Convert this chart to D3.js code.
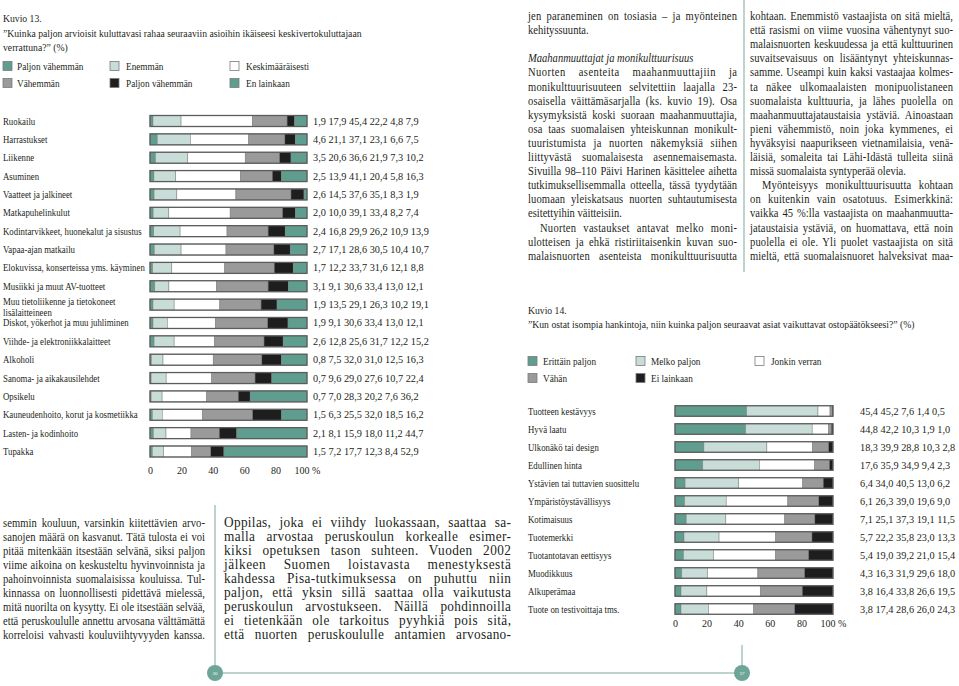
<!DOCTYPE html>
<html><head><meta charset="utf-8">
<script src="https://cdn.jsdelivr.net/npm/d3@7"></script>
<style>
body{margin:0;background:#fff}
svg{display:block}
text{font-family:"Liberation Serif","Times New Roman",serif;fill:#231f20}
</style></head>
<body><svg id="c" width="959" height="686"></svg>
<script>
// ---------- Kuvio 13 data ----------
const cat13 = ["Ruokailu","Harrastukset","Liikenne","Asuminen","Vaatteet ja jalkineet","Matkapuhelinkulut",
  "Kodintarvikkeet, huonekalut ja sisustus","Vapaa-ajan matkailu","Elokuvissa, konserteissa yms. käyminen",
  "Musiikki ja muut AV-tuotteet","Muu tietoliikenne ja tietokoneet\nlisälaitteineen","Diskot, yökerhot ja muu juhliminen",
  "Viihde- ja elektroniikkalaitteet","Alkoholi","Sanoma- ja aikakausilehdet","Opsikelu",
  "Kauneudenhoito, korut ja kosmetiikka","Lasten- ja kodinhoito","Tupakka"];
const paljonEnemman13 = [1.9,4.6,3.5,2.5,2.6,2.0,2.4,2.7,1.7,3.1,1.9,1.9,2.6,0.8,0.7,0.7,1.5,2.1,1.5];
const enemman13       = [17.9,21.1,20.6,13.9,14.5,10.0,16.8,17.1,12.2,9.1,13.5,9.1,12.8,7.5,9.6,7.0,6.3,8.1,7.2];
const keskim13        = [45.4,37.1,36.6,41.1,37.6,39.1,29.9,28.6,33.7,30.6,29.1,30.6,25.6,32.0,29.0,28.3,25.5,15.9,17.7];
const vahemman13      = [22.2,23.1,21.9,20.4,35.1,33.4,26.2,30.5,31.6,33.4,26.3,33.4,31.7,31.0,27.6,20.2,32.0,18.0,12.3];
const paljonVah13     = [4.8,6.6,7.3,5.8,8.3,8.2,10.9,10.4,12.1,13.0,10.2,13.0,12.2,12.5,10.7,7.6,18.5,11.2,8.4];
const enLainkaan13    = [7.9,7.5,10.2,16.3,1.9,7.4,13.9,10.7,8.8,12.1,19.1,12.1,15.2,16.3,22.4,36.2,16.2,44.7,52.9];
const legend13 = ["Paljon vähemmän","Enemmän","Keskimääräisesti","Vähemmän","Paljon vähemmän","En lainkaan"];
const ticks = [0,20,40,60,80,100];

// ---------- Kuvio 14 data ----------
const cat14 = ["Tuotteen kestävyys","Hyvä laatu","Ulkonäkö tai design","Edullinen hinta",
  "Ystävien tai tuttavien suosittelu","Ympäristöystävällisyys","Kotimaisuus","Tuotemerkki",
  "Tuotantotavan eettisyys","Muodikkuus","Alkuperämaa","Tuote on testivoittaja tms."];
const erittain14 = [45.4,44.8,18.3,17.6,6.4,6.1,7.1,5.7,5.4,4.3,3.8,3.8];
const melko14    = [45.2,42.2,39.9,35.9,34.0,26.3,25.1,22.2,19.0,16.3,16.4,17.4];
const jonkin14   = [7.6,10.3,28.8,34.9,40.5,39.0,37.3,35.8,39.2,31.9,33.8,28.6];
const vahan14    = [1.4,1.9,10.3,9.4,13.0,19.6,19.1,23.0,21.0,29.6,26.6,26.0];
const eiLaink14  = [0.5,1.0,2.8,2.3,6.2,9.0,11.5,13.3,15.4,18.0,19.5,24.3];
const legend14 = ["Erittäin paljon","Melko paljon","Jonkin verran","Vähän","Ei lainkaan"];

// ---------- body text (1 = justified, 0 = ragged, 2 = italic heading, 3 = indented) ----------
const textLeft = [
 ["semmin kouluun, varsinkin kiitettävien arvo-",1],["sanojen määrä on kasvanut. Tätä tulosta ei voi",1],
 ["pitää mitenkään itsestään selvänä, siksi paljon",1],["viime aikoina on keskusteltu hyvinvoinnista ja",1],
 ["pahoinvoinnista suomalaisissa kouluissa. Tul-",1],["kinnassa on luonnollisesti pidettävä mielessä,",1],
 ["mitä nuorilta on kysytty. Ei ole itsestään selvää,",1],["että peruskoululle annettu arvosana välttämättä",1],
 ["korreloisi vahvasti kouluviihtyvyyden kanssa.",1]];
const textMid = [
 ["Oppilas, joka ei viihdy luokassaan, saattaa sa-",1],["malla arvostaa peruskoulun korkealle esimer-",1],
 ["kiksi opetuksen tason suhteen. Vuoden 2002",1],["jälkeen Suomen loistavasta menestyksestä",1],
 ["kahdessa Pisa-tutkimuksessa on puhuttu niin",1],["paljon, että yksin sillä saattaa olla vaikutusta",1],
 ["peruskoulun arvostukseen. Näillä pohdinnoilla",1],["ei tietenkään ole tarkoitus pyyhkiä pois sitä,",1],
 ["että nuorten peruskoululle antamien arvosano-",1]];
const textR1 = [
 ["jen paraneminen on tosiasia – ja myönteinen",1],["kehityssuunta.",0],["",0],
 ["Maahanmuuttajat ja monikulttuurisuus",2],["Nuorten asenteita maahanmuuttajiin ja",1],
 ["monikulttuurisuuteen selvitettiin laajalla 23-",1],["osaisella väittämäsarjalla (ks. kuvio 19). Osa",1],
 ["kysymyksistä koski suoraan maahanmuuttajia,",1],["osa taas suomalaisen yhteiskunnan monikult-",1],
 ["tuuristumista ja nuorten näkemyksiä siihen",1],["liittyvästä suomalaisesta asennemaisemasta.",1],
 ["Sivuilla 98–110 Päivi Harinen käsittelee aihetta",1],["tutkimuksellisemmalla otteella, tässä tyydytään",1],
 ["luomaan yleiskatsaus nuorten suhtautumisesta",1],["esitettyihin väitteisiin.",0],
 ["Nuorten vastaukset antavat melko moni-",3],["ulotteisen ja ehkä ristiriitaisenkin kuvan suo-",1],
 ["malaisnuorten asenteista monikulttuurisuutta",1]];
const textR2 = [
 ["kohtaan. Enemmistö vastaajista on sitä mieltä,",1],["että rasismi on viime vuosina vähentynyt suo-",1],
 ["malaisnuorten keskuudessa ja että kulttuurinen",1],["suvaitsevaisuus on lisääntynyt yhteiskunnas-",1],
 ["samme. Useampi kuin kaksi vastaajaa kolmes-",1],["ta näkee ulkomaalaisten monipuolistaneen",1],
 ["suomalaista kulttuuria, ja lähes puolella on",1],["maahanmuuttajataustaisia ystäviä. Ainoastaan",1],
 ["pieni vähemmistö, noin joka kymmenes, ei",1],["hyväksyisi naapurikseen vietnamilaisia, venä-",1],
 ["läisiä, somaleita tai Lähi-Idästä tulleita siinä",1],["missä suomalaista syntyperää olevia.",0],
 ["Myönteisyys monikulttuurisuutta kohtaan",3],["on kuitenkin vain osatotuus. Esimerkkinä:",1],
 ["vaikka 45 %:lla vastaajista on maahanmuutta-",1],["jataustaisia ystäviä, on huomattava, että noin",1],
 ["puolella ei ole. Yli puolet vastaajista on sitä",1],["mieltä, että suomalaisnuoret halveksivat maa-",1]];

// ---------- drawing ----------
const TEAL="#5f9e8e", LIGHT="#c8ddd7", WHITE="#ffffff", GRAY="#9a9a9a", BLACK="#1e1e1e";
const svg = d3.select("#c");
const K = 0.88;
const fmt = d3.formatLocale({decimal:",",thousands:" ",grouping:[3],currency:["","€"]}).format(".1f");

// horizontally condensed text (emulates the narrow Garamond face)
function sq(g,s,x,y,size,k){
  const gg = g.append("g").attr("transform",`translate(${x},${y}) scale(${k},1)`);
  return gg.append("text").attr("x",0).attr("y",0).style("font-size",size+"px").text(s);
}

function paragraph(lines,x,y0,lh,w,size,k0){
  const g = svg.append("g");
  lines.forEach((ln,i)=>{
    const [s,f] = ln; if(!s) return;
    const ind = f===3?12:0;
    const t = sq(g,s,x+ind,y0+i*lh,size,k0);
    if(f===2) t.style("font-style","italic");
    if(f===1||f===3){
      const target = w-ind;
      const L = t.node().getComputedTextLength();
      if(L*k0 >= target){
        d3.select(t.node().parentNode).attr("transform",`translate(${x+ind},${y0+i*lh}) scale(${target/L},1)`);
      } else {
        const extra = target/k0 - L;
        const n = (s.match(/ /g)||[]).length;
        const ls = extra*0.35/(s.length-1);
        t.style("letter-spacing",ls+"px");
        if(n>0) t.style("word-spacing",((extra - ls*(s.length-1))/n)+"px");
      }
    }
  });
}

function legend(items,colors,sqX,txX,rowY){
  const g = svg.append("g");
  items.forEach((s,i)=>{
    const c=i%3, r=Math.floor(i/3);
    g.append("rect").attr("x",sqX[c]).attr("y",rowY[r]-4.5).attr("width",9).attr("height",9)
      .attr("fill",colors[i]).attr("stroke","#7a7a7a").attr("stroke-width",0.8);
    sq(g,s,txX[c],rowY[r]+3.5,10.5,K);
  });
}

function stackedChart(cats,series,colors,x0,x1,yTop,yBot,barH,labelX,valX,axisY){
  const keys = series.map((_,i)=>"k"+i);
  const rows = cats.map((c,j)=>{const o={cat:c}; series.forEach((s,i)=>o["k"+i]=s[j]); return o;});
  const stacked = d3.stack().keys(keys).offset(d3.stackOffsetExpand)(rows);
  const x = d3.scaleLinear().domain([0,1]).range([x0,x1]);
  const xa = d3.scaleLinear().domain([0,100]).range([x0,x1]);
  const y = d3.scalePoint().domain(cats).range([yTop,yBot]);
  const g = svg.append("g");
  stacked.forEach((layer,i)=>{
    g.append("g").selectAll("rect").data(layer).join("rect")
      .attr("x",d=>x(d[0])).attr("width",d=>Math.max(0,x(d[1])-x(d[0])))
      .attr("y",d=>y(d.data.cat)-barH/2).attr("height",barH)
      .attr("fill",colors[i]).attr("stroke","#7d7d7d").attr("stroke-width",0.5);
  });
  g.append("g").selectAll("rect").data(cats).join("rect")
    .attr("x",x0).attr("width",x1-x0).attr("y",d=>y(d)-barH/2).attr("height",barH)
    .attr("fill","none").attr("stroke","#5c5c5c").attr("stroke-width",1.3);
  cats.forEach(c=>{
    const parts=c.split("\n");
    parts.forEach((p,k)=>sq(g,p,labelX,y(c)+(parts.length>1?k*11:3.5),10,K));
  });
  cats.forEach((c,j)=>{
    g.append("text").attr("x",valX).attr("y",y(c)+3.5).style("font-size","10.3px")
      .text(series.map(s=>fmt(s[j])).join(" "));
  });
  const ax = g.append("g").attr("transform",`translate(0,${axisY})`)
    .call(d3.axisBottom(xa).tickValues(ticks).tickSize(0).tickPadding(3).tickFormat(d=>d===100?"100 %":d));
  ax.select(".domain").remove();
  ax.attr("font-family",null).attr("font-size",null);
  ax.selectAll("text").style("font-size","10px").style("fill","#231f20");
}

// Kuvio 13
const g0 = svg.append("g");
sq(g0,"Kuvio 13.",3,22,11,K);
sq(g0,"”Kuinka paljon arvioisit kuluttavasi rahaa seuraaviin asioihin ikäiseesi keskivertokuluttajaan",3,37,11,K);
sq(g0,"verrattuna?” (%)",3,51,11,K);
legend(legend13,[TEAL,LIGHT,WHITE,GRAY,BLACK,TEAL],[3,110,230],[17,126,246],[66,83]);
stackedChart(cat13,[paljonEnemman13,enemman13,keskim13,vahemman13,paljonVah13,enLainkaan13],
  [TEAL,LIGHT,WHITE,GRAY,BLACK,TEAL],150,307,121,451.5,11,3,313,464);

// Kuvio 14
sq(g0,"Kuvio 14.",528,314,11,K);
sq(g0,"”Kun ostat isompia hankintoja, niin kuinka paljon seuraavat asiat vaikuttavat ostopäätökseesi?” (%)",528,328,11,K);
legend(legend14,[TEAL,LIGHT,WHITE,GRAY,BLACK],[528,636,755],[543,651,771],[361,378]);
stackedChart(cat14,[erittain14,melko14,jonkin14,vahan14,eiLaink14],
  [TEAL,LIGHT,WHITE,GRAY,BLACK],675,833,411,609,10.5,528,860,617);

// body text
paragraph(textLeft,3,527,14,202,12,K);
paragraph(textMid,224,527,14,287,14,0.95);
paragraph(textR1,528,20,14.1,209,12,K);
paragraph(textR2,750,20,14.1,203,12,K);

// page furniture
const LINE="#a9c4bd";
svg.append("line").attr("x1",744).attr("x2",744).attr("y1",0).attr("y2",272).attr("stroke",LINE).attr("stroke-width",1.5);
svg.append("line").attr("x1",215).attr("x2",215).attr("y1",505).attr("y2",666).attr("stroke",LINE).attr("stroke-width",1.5);
svg.append("line").attr("x1",742).attr("x2",742).attr("y1",645).attr("y2",666).attr("stroke",LINE).attr("stroke-width",1.5);
svg.append("line").attr("x1",222).attr("x2",735).attr("y1",673).attr("y2",673).attr("stroke",LINE).attr("stroke-width",1.5);
[[215,"36"],[742,"37"]].forEach(([cx,s])=>{
  svg.append("circle").attr("cx",cx).attr("cy",673).attr("r",8).attr("fill","#6da596");
  svg.append("text").attr("x",cx).attr("y",675).attr("text-anchor","middle").style("font-size","5px").style("fill","#fff").text(s);
});
</script></body></html>
